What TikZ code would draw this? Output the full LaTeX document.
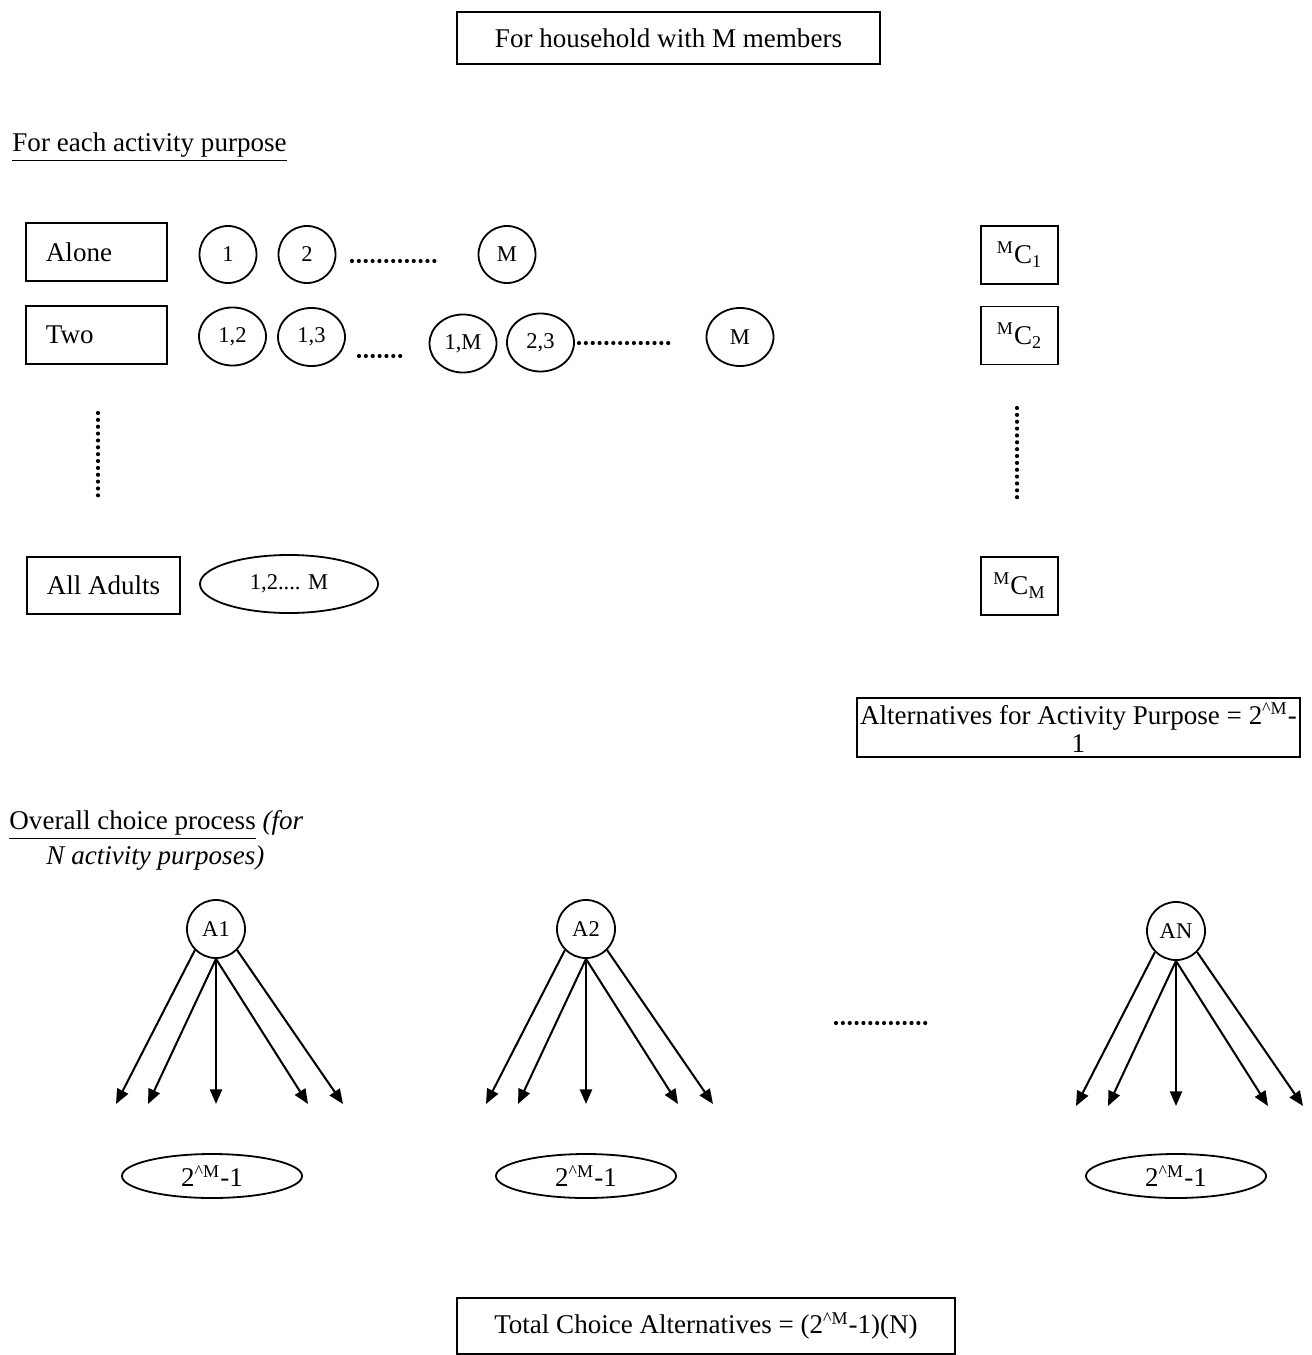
\documentclass[tikz,border=0pt]{standalone}
\usepackage{fontspec}
\setmainfont{Liberation Serif}
\usetikzlibrary{shapes.geometric,arrows.meta}
\tikzset{
  box/.style={draw, line width=0.8pt, rectangle, inner sep=0pt, align=center},
  member/.style={draw, line width=0.8pt, circle, inner sep=0pt, minimum size=0.889cm, font=\fontsize{10}{12}\selectfont},
  group/.style={draw, line width=0.8pt, ellipse, inner sep=0pt, minimum width=1.045cm, minimum height=0.905cm, font=\fontsize{10}{12}\selectfont},
  mcbox/.style={box, minimum width=1.201cm, minimum height=0.905cm},
  purpose/.style={draw, line width=0.8pt, circle, inner sep=0pt, minimum size=0.905cm, font=\fontsize{10}{12}\selectfont},
  altcount/.style={draw, line width=0.8pt, ellipse, inner sep=0pt, minimum width=2.808cm, minimum height=0.686cm},
  dotrow/.style={line width=0.065cm, line cap=round, dash pattern=on 0pt off 0.107cm},
  choice/.style={-{Triangle[length=0.23cm,width=0.19cm]}, line width=0.9pt},
}
\begin{document}
\begin{tikzpicture}[x=0.0156cm, y=-0.0156cm, font=\fontsize{12}{14.4}\selectfont]
  \useasboundingbox (0,0) rectangle (1312,1355);

  \node[box, minimum width=6.6cm, minimum height=0.81cm] (hh) at (668.5,38) {For household with M members};
  \node[anchor=west, inner sep=0pt] (each) at (12,147) {\underline{For each activity purpose}};

  \node[box, align=left, text width=1.576cm, inner xsep=0.312cm, minimum height=0.905cm] (alone) at (96.5,252) {Alone};
  \node[box, align=left, text width=1.576cm, inner xsep=0.312cm, minimum height=0.905cm] (two) at (96.5,335) {Two};
  \node[box, minimum width=2.387cm, minimum height=0.889cm] (adults) at (103.5,585.5) {All Adults};

  \node[member] (m1) at (228,254.5) {1};
  \node[member] (m2) at (307,254.5) {2};
  \draw[dotrow] (352,261) -- (441,261);
  \node[member] (mM) at (507,254.5) {M};

  \node[group] (p12) at (232.5,336.5) {1,2};
  \node[group] (p13) at (311.5,337) {1,3};
  \draw[dotrow] (359,356) -- (404,356);
  \node[group] (p1M) at (463,343.5) {1,M};
  \node[group] (p23) at (540.5,342.5) {2,3};
  \draw[dotrow] (579,343) -- (670,343);
  \node[group] (pM) at (740,337) {M};

  \draw[dotrow] (98,413) -- (98,501);
  \draw[dotrow] (1017,408) -- (1017,498);

  \node[group, minimum width=2.777cm] (pall) at (289,584) {1,2.... M};

  \node[mcbox] (mc1) at (1019.5,255) {\textsuperscript{M}C\textsubscript{1}};
  \node[mcbox] (mc2) at (1019.5,335.5) {\textsuperscript{M}C\textsubscript{2}};
  \node[mcbox] (mcM) at (1019.5,586) {\textsuperscript{M}C\textsubscript{M}};

  \node[box, minimum width=6.911cm, minimum height=0.92cm, inner sep=0pt] (altbox) at (1078.5,727.5)
    {Alternatives for Activity Purpose = 2\textsuperscript{\^{}M}-\\[-2pt]1};

  \node[anchor=west, inner sep=0pt] (overall) at (9,825) {\underline{Overall choice process} \textit{(for}};
  \node[anchor=west, inner sep=0pt] (overalltwo) at (46,858) {\textit{N activity purposes)}};

  \node[purpose] (a1) at (216,929) {A1};
  \node[purpose] (a2) at (586,929) {A2};
  \node[purpose] (aN) at (1176,931) {AN};
  \draw[dotrow] (836,1023) -- (927,1023);

  \foreach \n in {a1,a2,aN} {
    \path (\n) ++(-100,175) coordinate (\n-ll) ++(32,0) coordinate (\n-l)
      ++(68,0) coordinate (\n-m) ++(92,0) coordinate (\n-r) ++(35,0) coordinate (\n-rr);
    \draw[choice] (\n.-135) -- (\n-ll);
    \draw[choice] (\n.south) -- (\n-l);
    \draw[choice] (\n.south) -- (\n-m);
    \draw[choice] (\n.south) -- (\n-r);
    \draw[choice] (\n.-45) -- (\n-rr);
  }

  \node[altcount] (e1) at (212,1176) {2\textsuperscript{\^{}M}-1};
  \node[altcount] (e2) at (586,1176) {2\textsuperscript{\^{}M}-1};
  \node[altcount] (eN) at (1176,1176) {2\textsuperscript{\^{}M}-1};

  \node[box, minimum width=7.769cm, minimum height=0.874cm] (total) at (706,1326)
    {Total Choice Alternatives = (2\textsuperscript{\^{}M}-1)(N)};
\end{tikzpicture}
\end{document}
